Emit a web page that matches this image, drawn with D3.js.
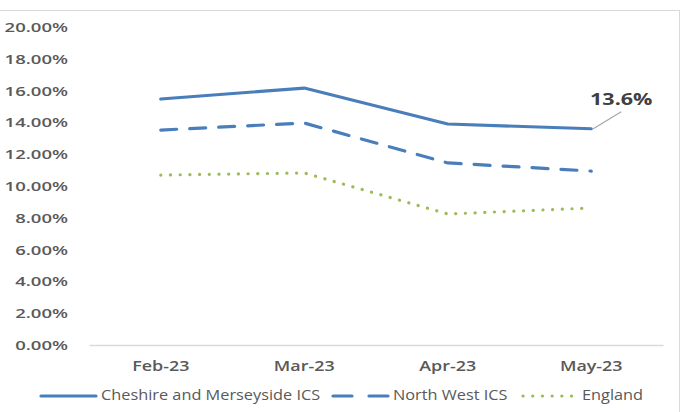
<!DOCTYPE html>
<html><head><meta charset="utf-8">
<script src="https://cdn.jsdelivr.net/npm/d3@7"></script>
<style>body{margin:0;background:#fff}svg{display:block}</style>
</head><body>
<svg id="c" width="683" height="412"></svg>
<script>
const categories = ["Feb-23","Mar-23","Apr-23","May-23"];
const cheshire = [15.47,16.16,13.9,13.6];
const northWest = [13.52,13.96,11.45,10.94];
const england = [10.69,10.82,8.24,8.62];
const yTicks = [0,2,4,6,8,10,12,14,16,18,20];
const seriesNames = ["Cheshire and Merseyside ICS","North West ICS","England"];

const svg = d3.select("#c");
const font = "'Open Sans', sans-serif";
// frame
svg.append("line").attr("x1",0).attr("x2",680).attr("y1",10.5).attr("y2",10.5).attr("stroke","#d9d9d9");
svg.append("line").attr("x1",679.5).attr("x2",679.5).attr("y1",10).attr("y2",412).attr("stroke","#d9d9d9");

const x = d3.scaleBand().domain(categories).range([89,663]);
const y = d3.scaleLinear().domain([0,20]).range([345,27]);

// y axis
const kY = 1.47;
const yAxis = svg.append("g").attr("transform","translate(68,0)")
  .call(d3.axisLeft(y).tickValues(yTicks).tickSize(0).tickPadding(0).tickFormat(d=>d.toFixed(2)+"%"));
yAxis.select(".domain").remove();
yAxis.selectAll("text").attr("font-family",font).attr("font-size",12.6).attr("font-weight","600")
  .attr("fill","#595959").attr("x",0).attr("dy","0.36em").attr("transform",`scale(${kY},1)`);

// x axis
const kX = 1.28;
const xAxis = svg.append("g").attr("transform","translate(0,345)")
  .call(d3.axisBottom(x).tickSize(0));
xAxis.select(".domain").attr("stroke","#d9d9d9").attr("stroke-width",1.3);
xAxis.selectAll("text").attr("font-family",font).attr("font-size",14).attr("font-weight","600")
  .attr("fill","#595959").attr("dy","0").attr("y",26/1).attr("transform",`scale(${kX},1)`).attr("x",0);

const cx = d => x(d)+x.bandwidth()/2;
const line = d3.line().x((d,i)=>cx(categories[i])).y(d=>y(d));
const styles = [
  {data:cheshire, color:"#4a7ebb", dash:null},
  {data:northWest, color:"#4a7ebb", dash:"16,13"},
  {data:england, color:"#9bbb59", dash:"0.1,9.6"}
];
styles.forEach(s=>{
  svg.append("path").datum(s.data).attr("d",line).attr("fill","none")
    .attr("stroke",s.color).attr("stroke-width",3.2).attr("stroke-linecap","round").attr("stroke-linejoin","round")
    .attr("stroke-dasharray",s.dash);
});
// data label
const lx = cx(categories[3]), lyv = y(cheshire[3]);
svg.append("line").attr("x1",lx+2).attr("y1",lyv).attr("x2",lx+30).attr("y2",lyv-17).attr("stroke","#a6a6a6").attr("stroke-width",1.2);
svg.append("text").attr("transform",`translate(${lx+30},${lyv-24}) scale(1.28,1)`).attr("text-anchor","middle")
  .attr("font-family",font).attr("font-size",16.8).attr("font-weight","bold").attr("fill","#404040").text(cheshire[3].toFixed(1)+"%");

// legend
const ly0 = 396;
const kL = 1.165;
const leg = [
  {x1:41,x2:96,tx:101,color:"#4a7ebb",dash:null},
  {x1:333,x2:389,tx:393,color:"#4a7ebb",dash:"19,17"},
  {x1:523,x2:578,tx:582,color:"#9bbb59",dash:"0.1,9.6"}
];
leg.forEach((l,i)=>{
  svg.append("line").attr("x1",l.x1).attr("x2",l.x2).attr("y1",ly0).attr("y2",ly0)
    .attr("stroke",l.color).attr("stroke-width",3.2).attr("stroke-linecap","round").attr("stroke-dasharray",l.dash);
  svg.append("text").attr("transform",`translate(${l.tx},${ly0+4}) scale(${kL},1)`).attr("font-family",font)
    .attr("font-size",14).attr("fill","#595959").text(seriesNames[i]);
});
</script>
</body></html>
